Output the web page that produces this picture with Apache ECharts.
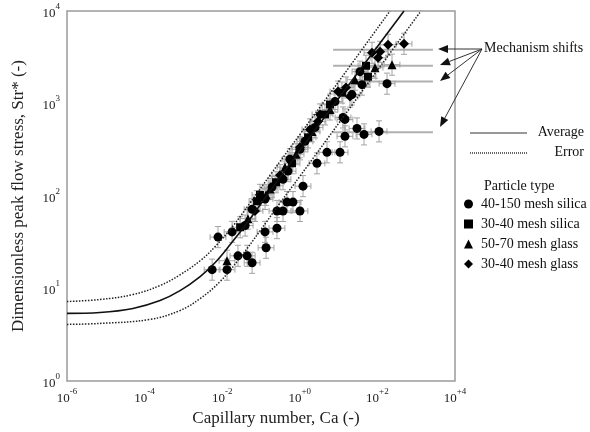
<!DOCTYPE html>
<html>
<head>
<meta charset="utf-8">
<script src="https://cdn.jsdelivr.net/npm/echarts@6/dist/echarts.min.js"></script>
<style>
html, body { margin: 0; padding: 0; background: #fff; }
#chart { width: 590px; height: 432px; }
</style>
</head>
<body>
<div id="chart"></div>
<script>
var serif = '"Liberation Serif", "Times New Roman", serif';

// measured points, [Ca, Str*]
var silica40_150 = [
    [0.0055, 16], [0.0078, 36], [0.0133, 16], [0.018, 41], [0.0255, 22.6], [0.044, 22.6], [0.059, 19],
    [0.127, 41], [0.135, 27.6], [0.258, 45], [0.039, 48], [0.059, 72], [0.127, 93], [0.192, 125], [0.258, 69],
    [0.369, 69], [0.468, 86], [0.668, 86], [1.01, 69], [1.21, 128], [0.369, 152], [0.497, 186], [0.558, 250],
    [1.01, 320], [1.36, 390], [2.47, 552], [2.77, 226], [5.02, 297], [10.9, 297], [14.6, 442], [14.6, 673],
    [13.0, 707], [8.07, 1050], [22.1, 1250], [29.8, 538], [45.2, 464], [110, 500], [40.1, 1600],
    [35.6, 2210], [177, 1640]
];
var silica30_40 = [
    [0.029, 46], [0.079, 88], [0.094, 103], [0.244, 141], [0.63, 226], [1.63, 431], [4.46, 762],
    [6.0, 975], [12.2, 1313], [57.3, 1950], [50.8, 2560]
];
var glass50_70 = [
    [0.0133, 20], [0.046, 57], [0.135, 103], [0.171, 119], [0.416, 205], [0.80, 283], [2.06, 500],
    [6.0, 862], [26.5, 1810], [86.8, 2440], [238, 2630]
];
var glass30_40 = [
    [0.070, 69], [0.309, 168], [1.01, 337], [1.83, 525], [2.94, 640], [3.32, 762], [9.66, 1346],
    [15.5, 1490], [19.7, 1190], [72.6, 3535], [104, 3125], [117, 3620], [188, 4310], [485, 4420]
];

// error bar factors (multiplicative)
var strErr = 1.3;
var caErr = 1.6;

// mechanism shifts: [Ca low, Ca high, Str*]
var shifts = [[7.2, 2700, 3810], [7.2, 2700, 2560], [30, 2700, 1725], [7.2, 2700, 488]];

// fitted curves, [Ca, Str*]
var avgCurve = [
    [1e-6, 5.4], [7.1e-6, 5.52], [5e-5, 6.1], [2.5e-4, 7.43], [8.2e-4, 9.5], [2.7e-3, 13.5],
    [6.5e-3, 19], [0.0159, 29.7], [0.052, 56.6], [0.369, 177], [10.9, 1190], [485, 10000]
];
var errUpper = [
    [1e-6, 7.25], [7.1e-6, 7.62], [5e-5, 8.62], [2.5e-4, 10.8], [8.2e-4, 14.1], [2.7e-3, 20],
    [6.5e-3, 28.3], [0.019, 47.6], [0.052, 84], [0.171, 168], [1.01, 464], [10.9, 1810], [211, 10000]
];
var errLower = [
    [1e-6, 4.1], [7.1e-6, 4.2], [1.38e-4, 4.64], [8.2e-4, 5.8], [2.7e-3, 7.8], [8.8e-3, 11.9],
    [0.0288, 21.5], [0.094, 42], [0.309, 84], [1.01, 164], [10.9, 640], [117, 2500], [1330, 10000]
];

var xTickLabels = { '-6': '-6', '-4': '-4', '-2': '-2', '0': '+0', '2': '+2', '4': '+4' };
var yTickLabels = { '0': '0', '1': '1', '2': '2', '3': '3', '4': '4' };

var particleNames = ['40-150 mesh silica', '30-40 mesh silica', '50-70 mesh glass', '30-40 mesh glass'];
var particleIcons = ['circle', 'rect', 'triangle', 'diamond'];

var myChart = echarts.init(document.getElementById('chart'));

var supRich = {
    b: { fontFamily: serif, fontSize: 13, color: '#222', verticalAlign: 'bottom', lineHeight: 18 },
    s: { fontFamily: serif, fontSize: 9, color: '#222', verticalAlign: 'top', lineHeight: 18 }
};

function renderErr(params, api) {
    var ca = api.value(0), st = api.value(1);
    var c = api.coord([ca, st]);
    var top = api.coord([ca, st * strErr]);
    var bot = api.coord([ca, st / strErr]);
    var lft = api.coord([ca / caErr, st]);
    var rgt = api.coord([ca * caErr, st]);
    var cap = 3;
    var style = { stroke: '#a3a3a3', lineWidth: 1 };
    return {
        type: 'group',
        children: [
            { type: 'line', shape: { x1: c[0], y1: top[1], x2: c[0], y2: bot[1] }, style: style },
            { type: 'line', shape: { x1: c[0] - cap, y1: top[1], x2: c[0] + cap, y2: top[1] }, style: style },
            { type: 'line', shape: { x1: c[0] - cap, y1: bot[1], x2: c[0] + cap, y2: bot[1] }, style: style },
            { type: 'line', shape: { x1: lft[0], y1: c[1], x2: rgt[0], y2: c[1] }, style: style },
            { type: 'line', shape: { x1: lft[0], y1: c[1] - cap, x2: lft[0], y2: c[1] + cap }, style: style },
            { type: 'line', shape: { x1: rgt[0], y1: c[1] - cap, x2: rgt[0], y2: c[1] + cap }, style: style }
        ]
    };
}

function renderShift(params, api) {
    var a = api.coord([api.value(0), api.value(2)]);
    var b = api.coord([api.value(1), api.value(2)]);
    return {
        type: 'line',
        shape: { x1: a[0], y1: a[1], x2: b[0], y2: b[1] },
        style: { stroke: '#b0b0b0', lineWidth: 2 }
    };
}

// arrows from the "Mechanism shifts" label
var arrowTail = [482, 49];
var arrowHeads = [[438, 49], [440, 65], [440, 81], [440, 127]];
var graphics = [];
arrowHeads.forEach(function (h) {
    var dx = h[0] - arrowTail[0], dy = h[1] - arrowTail[1];
    var len = Math.sqrt(dx * dx + dy * dy);
    var ux = dx / len, uy = dy / len;
    var bx = h[0] - ux * 10, by = h[1] - uy * 10;
    graphics.push({
        type: 'line',
        shape: { x1: arrowTail[0], y1: arrowTail[1], x2: bx, y2: by },
        style: { stroke: '#333', lineWidth: 1 }
    });
    graphics.push({
        type: 'polygon',
        shape: { points: [[h[0], h[1]], [bx - uy * 4, by + ux * 4], [bx + uy * 4, by - ux * 4]] },
        style: { fill: '#111' }
    });
});
graphics.push({
    type: 'text', left: 484, top: 41,
    style: { text: 'Mechanism shifts', font: '14px ' + serif, fill: '#111' }
});
// line legend
graphics.push({ type: 'line', shape: { x1: 470, y1: 133, x2: 527, y2: 133 }, style: { stroke: '#333', lineWidth: 1 } });
graphics.push({ type: 'line', shape: { x1: 470, y1: 153, x2: 527, y2: 153 }, style: { stroke: '#333', lineWidth: 1.5, lineDash: [1, 1] } });
graphics.push({ type: 'text', right: 6, top: 125, style: { text: 'Average', font: '14px ' + serif, fill: '#111' } });
graphics.push({ type: 'text', right: 6, top: 145, style: { text: 'Error', font: '14px ' + serif, fill: '#111' } });
graphics.push({ type: 'text', left: 484, top: 179, style: { text: 'Particle type', font: '14px ' + serif, fill: '#111' } });

var option = {
    animation: false,
    backgroundColor: '#fff',
    grid: {
        left: 67, right: 135, top: 11, bottom: 49,
        show: true, borderColor: '#9a9a9a', borderWidth: 1.5
    },
    legend: {
        data: particleNames.map(function (n, i) {
            return { name: n, icon: particleIcons[i] };
        }),
        orient: 'vertical',
        left: 459, top: 192,
        itemWidth: 9, itemHeight: 9, itemGap: 6,
        textStyle: { fontFamily: serif, fontSize: 14, color: '#111', padding: [0, 0, 0, 3] }
    },
    graphic: graphics,
    xAxis: {
        type: 'log', logBase: 10, min: 1e-6, max: 1e4, interval: 2,
        name: 'Capillary number, Ca (-)',
        nameLocation: 'middle', nameGap: 27,
        nameTextStyle: { fontFamily: serif, fontSize: 17, color: '#222', padding: [0, 0, 0, 30] },
        axisLine: { show: false },
        axisTick: { show: false },
        splitLine: { show: false },
        axisLabel: {
            margin: 6,
            formatter: function (v) {
                var e = Math.round(Math.log10(v));
                return '{b|10}{s|' + xTickLabels[String(e)] + '}';
            },
            rich: supRich
        }
    },
    yAxis: {
        type: 'log', logBase: 10, min: 1, max: 1e4, interval: 1,
        name: 'Dimensionless peak flow stress, Str* (-)',
        nameLocation: 'middle', nameGap: 40,
        nameTextStyle: { fontFamily: serif, fontSize: 17, color: '#222' },
        axisLine: { show: false },
        axisTick: { show: false },
        splitLine: { show: false },
        axisLabel: {
            margin: 7,
            formatter: function (v) {
                var e = Math.round(Math.log10(v));
                return '{b|10}{s|' + yTickLabels[String(e)] + '}';
            },
            rich: supRich
        }
    },
    series: [
        {
            type: 'custom', name: 'shifts', renderItem: renderShift,
            data: shifts, encode: { x: [0, 1], y: 2 }, z: 1, silent: true
        },
        {
            type: 'custom', name: 'errors', renderItem: renderErr,
            data: silica40_150.concat(silica30_40, glass50_70, glass30_40),
            encode: { x: 0, y: 1 }, z: 2, silent: true
        },
        {
            name: particleNames[0], type: 'scatter', symbol: 'circle', symbolSize: 9,
            data: silica40_150, itemStyle: { color: '#000', opacity: 1 }, z: 3
        },
        {
            name: particleNames[1], type: 'scatter', symbol: 'rect', symbolSize: 8,
            data: silica30_40, itemStyle: { color: '#000', opacity: 1 }, z: 3
        },
        {
            name: particleNames[2], type: 'scatter', symbol: 'triangle', symbolSize: 9,
            data: glass50_70, itemStyle: { color: '#000', opacity: 1 }, z: 3
        },
        {
            name: particleNames[3], type: 'scatter', symbol: 'diamond', symbolSize: 10,
            data: glass30_40, itemStyle: { color: '#000', opacity: 1 }, z: 3
        },
        {
            name: 'Average', type: 'line', data: avgCurve, smooth: 0.4, showSymbol: false,
            lineStyle: { color: '#111', width: 1.6 }, z: 4, silent: true
        },
        {
            name: 'Error upper', type: 'line', data: errUpper, smooth: 0.4, showSymbol: false,
            lineStyle: { color: '#222', width: 1.5, type: [1.5, 1.5] }, z: 4, silent: true
        },
        {
            name: 'Error lower', type: 'line', data: errLower, smooth: 0.4, showSymbol: false,
            lineStyle: { color: '#222', width: 1.5, type: [1.5, 1.5] }, z: 4, silent: true
        }
    ]
};

myChart.setOption(option);
</script>
</body>
</html>
